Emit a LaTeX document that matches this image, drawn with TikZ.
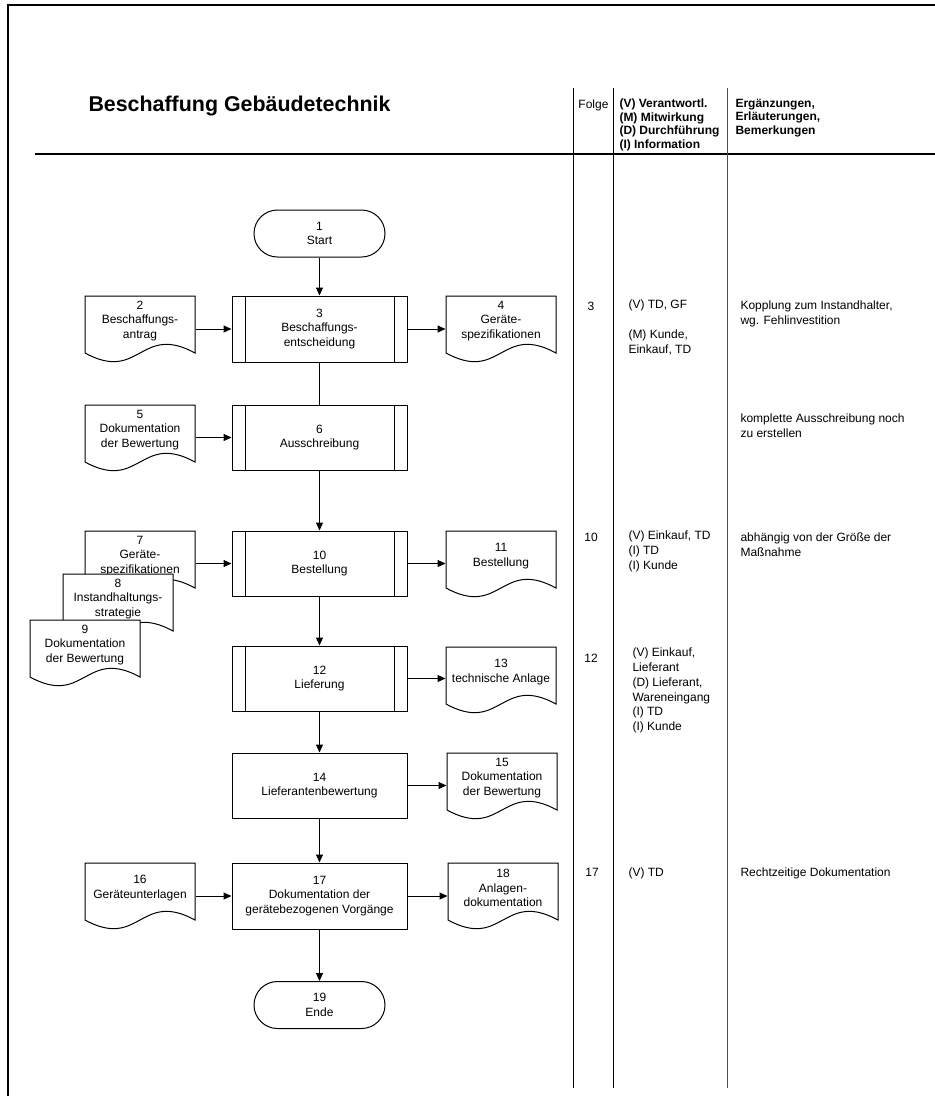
\documentclass[tikz,border=0pt]{standalone}
\usepackage{fontspec}
\setmainfont{Liberation Sans}
\usetikzlibrary{arrows.meta,shapes.misc,calc}

% document symbol: outline with wavy bottom, then the label node on top
\newcommand\flowdoc[4]{% #1 name, #2 left x, #3 top y, #4 label
  \path[docline] (#2,#3) -- (#2,#3+57)
     .. controls (#2+55,#3+87) and (#2+55,#3+27) .. (#2+110,#3+57)
     -- (#2+110,#3) -- cycle;
  \node[doclabel] (#1) at (#2+55,#3+25) {#4};
}

\begin{document}
\begin{tikzpicture}[x=1pt,y=-1pt,line width=1pt,
  txt/.style={font=\fontsize{12}{14.7}\selectfont, inner sep=0pt},
  proc/.style={draw, txt, align=center, minimum width=175pt, minimum height=66pt},
  subproc/.style={proc, path picture={
      \draw ([xshift=13pt]path picture bounding box.north west) -- ([xshift=13pt]path picture bounding box.south west);
      \draw ([xshift=-13pt]path picture bounding box.north east) -- ([xshift=-13pt]path picture bounding box.south east);}},
  term/.style={draw, rounded rectangle, txt, align=center, minimum width=131pt, minimum height=47pt},
  doclabel/.style={txt, align=center, minimum width=110pt, minimum height=50pt},
  docline/.style={draw, fill=white},
  flow/.style={-{Triangle[length=8pt,width=7pt]}},
  note/.style={txt, align=left, anchor=north west, execute at begin node=\strut},
  head/.style={font=\bfseries\fontsize{12}{13.6}\selectfont, inner sep=0pt, align=left, anchor=north west, execute at begin node=\strut},
  seq/.style={txt, anchor=base},
]
\useasboundingbox (0,0) rectangle (935,1096);

% page frame, header rule and table columns
\draw[line width=2pt] (7.5,1096) -- (7.5,4.5) -- (935,4.5);
\draw[line width=1.3pt] (35,154) -- (935,154);
\draw[line width=1pt] (573.5,88) -- (573.5,1088);
\draw[line width=1pt] (613,88) -- (613,1088);
\draw[line width=0.8pt, black!70] (727,88) -- (727,1088);

% header
\node[font=\bfseries\fontsize{21.4}{25}\selectfont, inner sep=0pt, anchor=base west] (title) at (88,111.5) {Beschaffung Gebäudetechnik};
\node[font=\fontsize{12}{14}\selectfont, inner sep=0pt, anchor=base] (folge) at (593.5,108) {Folge};
\node[head] (roles) at (619,98.3) {(V) Verantwortl.\\(M) Mitwirkung\\(D) Durchführung\\(I) Information};
\node[head] (remarks) at (735,98.3) {Ergänzungen,\\Erläuterungen,\\Bemerkungen};

% main flow
\node[term] (n1) at (319.5,233.5) {1\\Start};
\node[subproc] (n3) at (319.5,329) {3\\Beschaffungs-\\entscheidung};
\node[subproc, minimum height=65pt] (n6) at (319.5,437.5) {6\\Ausschreibung};
\node[subproc, minimum height=65pt] (n10) at (319.5,563.5) {10\\Bestellung};
\node[subproc, minimum height=65pt] (n12) at (319.5,678.5) {12\\Lieferung};
\node[proc, minimum height=65pt] (n14) at (319.5,785.5) {14\\Lieferantenbewertung};
\node[proc] (n17) at (319.5,896) {17\\Dokumentation der\\gerätebezogenen Vorgänge};
\node[term] (n19) at (319.5,1005) {19\\Ende};

% documents
\flowdoc{n2}{85}{296}{2\\Beschaffungs-\\antrag}
\flowdoc{n4}{446}{296}{4\\Geräte-\\spezifikationen}
\flowdoc{n5}{85}{405}{5\\Dokumentation\\der Bewertung}
\flowdoc{n7}{85}{531}{7\\Geräte-\\spezifikationen}
\flowdoc{n8}{63}{574}{8\\Instandhaltungs-\\strategie}
\flowdoc{n9}{30}{620}{9\\Dokumentation\\der Bewertung}
\flowdoc{n11}{446}{531}{11\\Bestellung}
\flowdoc{n13}{446}{647}{13\\technische Anlage}
\flowdoc{n15}{447}{753}{15\\Dokumentation\\der Bewertung}
\flowdoc{n16}{85}{863}{16\\Geräteunterlagen}
\flowdoc{n18}{448}{863}{18\\Anlagen-\\dokumentation}

% connectors
\draw[flow] (n1) -- (n3);
\draw (n3) -- (n6);
\draw[flow] (n6) -- (n10);
\draw[flow] (n10) -- (n12);
\draw[flow] (n12) -- (n14);
\draw[flow] (n14) -- (n17);
\draw[flow] (n17) -- (n19);
\draw[flow] (n2.east |- n3.west) -- (n3.west);
\draw[flow] (n3.east) -- (n3.east -| n4.west);
\draw[flow] (n5.east |- n6.west) -- (n6.west);
\draw[flow] (n7.east |- n10.west) -- (n10.west);
\draw[flow] (n10.east) -- (n10.east -| n11.west);
\draw[flow] (n12.east) -- (n12.east -| n13.west);
\draw[flow] (n14.east) -- (n14.east -| n15.west);
\draw[flow] (n16.east |- n17.west) -- (n17.west);
\draw[flow] (n17.east) -- (n17.east -| n18.west);

% table entries
\node[seq] (s3) at (591,310) {3};
\node[note] (r3) at (628,299.7) {(V) TD, GF\\[14.7pt](M) Kunde,\\Einkauf, TD};
\node[note] (c3) at (740,300.7) {Kopplung zum Instandhalter,\\wg. Fehlinvestition};
\node[note] (c6) at (740,413.7) {komplette Ausschreibung noch\\zu erstellen};
\node[seq] (s10) at (591,541) {10};
\node[note] (r10) at (628,530.7) {(V) Einkauf, TD\\(I) TD\\(I) Kunde};
\node[note] (c10) at (740,532.7) {abhängig von der Größe der\\Maßnahme};
\node[seq] (s12) at (591,662) {12};
\node[note] (r12) at (632,647.7) {(V) Einkauf,\\Lieferant\\(D) Lieferant,\\Wareneingang\\(I) TD\\(I) Kunde};
\node[seq] (s17) at (592,876) {17};
\node[note] (r17) at (628,865.7) {(V) TD};
\node[note] (c17) at (740,865.7) {Rechtzeitige Dokumentation};
\end{tikzpicture}
\end{document}
